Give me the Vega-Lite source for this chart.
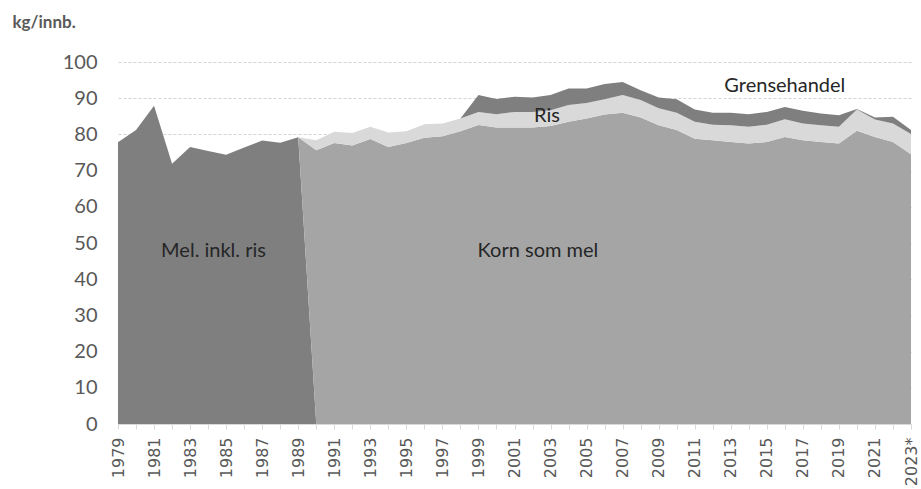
{
  "$schema": "https://vega.github.io/schema/vega-lite/v6.json",
  "width": 793,
  "height": 362,
  "autosize": {"type": "none"},
  "padding": {"left": 118, "top": 62, "right": 10, "bottom": 65},
  "background": "white",
  "config": {
    "view": {"stroke": null},
    "font": "Lato",
    "axisY": {
      "title": "kg/innb.",
      "titleAngle": 0,
      "titleAlign": "left",
      "titleBaseline": "top",
      "titleX": -106,
      "titleY": -48,
      "titleFont": "Lato",
      "titleFontSize": 17,
      "titleFontWeight": "bold",
      "titleColor": "#595959",
      "labelFont": "Lato",
      "labelFontSize": 20,
      "labelColor": "#595959",
      "labelPadding": 21,
      "labelOverlap": false,
      "ticks": false,
      "domain": false,
      "grid": true,
      "gridColor": "#d4d4d4",
      "gridDash": [3, 2],
      "gridWidth": 1
    }
  },
  "datasets": {
    "series": [
      {"year": 1979, "serie": "Mel. inkl. ris", "value": 77.8},
      {"year": 1980, "serie": "Mel. inkl. ris", "value": 81.2},
      {"year": 1981, "serie": "Mel. inkl. ris", "value": 87.9},
      {"year": 1982, "serie": "Mel. inkl. ris", "value": 71.9},
      {"year": 1983, "serie": "Mel. inkl. ris", "value": 76.5},
      {"year": 1984, "serie": "Mel. inkl. ris", "value": 75.4},
      {"year": 1985, "serie": "Mel. inkl. ris", "value": 74.4},
      {"year": 1986, "serie": "Mel. inkl. ris", "value": 76.4},
      {"year": 1987, "serie": "Mel. inkl. ris", "value": 78.3},
      {"year": 1988, "serie": "Mel. inkl. ris", "value": 77.7},
      {"year": 1989, "serie": "Mel. inkl. ris", "value": 79.2},
      {"year": 1990, "serie": "Mel. inkl. ris", "value": 0},
      {"year": 1989, "serie": "Korn som mel", "value": 0},
      {"year": 1990, "serie": "Korn som mel", "value": 75.6},
      {"year": 1991, "serie": "Korn som mel", "value": 77.6},
      {"year": 1992, "serie": "Korn som mel", "value": 76.9},
      {"year": 1993, "serie": "Korn som mel", "value": 78.7},
      {"year": 1994, "serie": "Korn som mel", "value": 76.5},
      {"year": 1995, "serie": "Korn som mel", "value": 77.6},
      {"year": 1996, "serie": "Korn som mel", "value": 79.1},
      {"year": 1997, "serie": "Korn som mel", "value": 79.5},
      {"year": 1998, "serie": "Korn som mel", "value": 80.9},
      {"year": 1999, "serie": "Korn som mel", "value": 82.6},
      {"year": 2000, "serie": "Korn som mel", "value": 81.9},
      {"year": 2001, "serie": "Korn som mel", "value": 81.9},
      {"year": 2002, "serie": "Korn som mel", "value": 81.9},
      {"year": 2003, "serie": "Korn som mel", "value": 82.3},
      {"year": 2004, "serie": "Korn som mel", "value": 83.5},
      {"year": 2005, "serie": "Korn som mel", "value": 84.4},
      {"year": 2006, "serie": "Korn som mel", "value": 85.5},
      {"year": 2007, "serie": "Korn som mel", "value": 86.0},
      {"year": 2008, "serie": "Korn som mel", "value": 84.7},
      {"year": 2009, "serie": "Korn som mel", "value": 82.5},
      {"year": 2010, "serie": "Korn som mel", "value": 81.2},
      {"year": 2011, "serie": "Korn som mel", "value": 78.8},
      {"year": 2012, "serie": "Korn som mel", "value": 78.4},
      {"year": 2013, "serie": "Korn som mel", "value": 77.9},
      {"year": 2014, "serie": "Korn som mel", "value": 77.5},
      {"year": 2015, "serie": "Korn som mel", "value": 77.9},
      {"year": 2016, "serie": "Korn som mel", "value": 79.3},
      {"year": 2017, "serie": "Korn som mel", "value": 78.4},
      {"year": 2018, "serie": "Korn som mel", "value": 77.9},
      {"year": 2019, "serie": "Korn som mel", "value": 77.5},
      {"year": 2020, "serie": "Korn som mel", "value": 81.0},
      {"year": 2021, "serie": "Korn som mel", "value": 79.3},
      {"year": 2022, "serie": "Korn som mel", "value": 77.9},
      {"year": 2023, "serie": "Korn som mel", "value": 74.5},
      {"year": 1989, "serie": "Ris", "value": 0},
      {"year": 1990, "serie": "Ris", "value": 2.8},
      {"year": 1991, "serie": "Ris", "value": 3.1},
      {"year": 1992, "serie": "Ris", "value": 3.5},
      {"year": 1993, "serie": "Ris", "value": 3.4},
      {"year": 1994, "serie": "Ris", "value": 4.0},
      {"year": 1995, "serie": "Ris", "value": 3.3},
      {"year": 1996, "serie": "Ris", "value": 3.7},
      {"year": 1997, "serie": "Ris", "value": 3.5},
      {"year": 1998, "serie": "Ris", "value": 3.5},
      {"year": 1999, "serie": "Ris", "value": 3.6},
      {"year": 2000, "serie": "Ris", "value": 3.7},
      {"year": 2001, "serie": "Ris", "value": 4.3},
      {"year": 2002, "serie": "Ris", "value": 4.3},
      {"year": 2003, "serie": "Ris", "value": 4.4},
      {"year": 2004, "serie": "Ris", "value": 4.6},
      {"year": 2005, "serie": "Ris", "value": 4.3},
      {"year": 2006, "serie": "Ris", "value": 4.2},
      {"year": 2007, "serie": "Ris", "value": 4.9},
      {"year": 2008, "serie": "Ris", "value": 4.8},
      {"year": 2009, "serie": "Ris", "value": 4.7},
      {"year": 2010, "serie": "Ris", "value": 4.8},
      {"year": 2011, "serie": "Ris", "value": 4.7},
      {"year": 2012, "serie": "Ris", "value": 4.3},
      {"year": 2013, "serie": "Ris", "value": 4.6},
      {"year": 2014, "serie": "Ris", "value": 4.6},
      {"year": 2015, "serie": "Ris", "value": 4.8},
      {"year": 2016, "serie": "Ris", "value": 4.9},
      {"year": 2017, "serie": "Ris", "value": 4.6},
      {"year": 2018, "serie": "Ris", "value": 4.6},
      {"year": 2019, "serie": "Ris", "value": 4.6},
      {"year": 2020, "serie": "Ris", "value": 5.9},
      {"year": 2021, "serie": "Ris", "value": 4.8},
      {"year": 2022, "serie": "Ris", "value": 5.1},
      {"year": 2023, "serie": "Ris", "value": 5.6},
      {"year": 1998, "serie": "Grensehandel", "value": 0},
      {"year": 1999, "serie": "Grensehandel", "value": 4.7},
      {"year": 2000, "serie": "Grensehandel", "value": 4.2},
      {"year": 2001, "serie": "Grensehandel", "value": 4.2},
      {"year": 2002, "serie": "Grensehandel", "value": 4.0},
      {"year": 2003, "serie": "Grensehandel", "value": 4.2},
      {"year": 2004, "serie": "Grensehandel", "value": 4.6},
      {"year": 2005, "serie": "Grensehandel", "value": 4.0},
      {"year": 2006, "serie": "Grensehandel", "value": 4.2},
      {"year": 2007, "serie": "Grensehandel", "value": 3.6},
      {"year": 2008, "serie": "Grensehandel", "value": 2.7},
      {"year": 2009, "serie": "Grensehandel", "value": 3.0},
      {"year": 2010, "serie": "Grensehandel", "value": 3.7},
      {"year": 2011, "serie": "Grensehandel", "value": 3.4},
      {"year": 2012, "serie": "Grensehandel", "value": 3.3},
      {"year": 2013, "serie": "Grensehandel", "value": 3.5},
      {"year": 2014, "serie": "Grensehandel", "value": 3.5},
      {"year": 2015, "serie": "Grensehandel", "value": 3.5},
      {"year": 2016, "serie": "Grensehandel", "value": 3.4},
      {"year": 2017, "serie": "Grensehandel", "value": 3.5},
      {"year": 2018, "serie": "Grensehandel", "value": 3.3},
      {"year": 2019, "serie": "Grensehandel", "value": 3.2},
      {"year": 2020, "serie": "Grensehandel", "value": 0.1},
      {"year": 2021, "serie": "Grensehandel", "value": 0.6},
      {"year": 2022, "serie": "Grensehandel", "value": 1.9},
      {"year": 2023, "serie": "Grensehandel", "value": 1.1}
    ],
    "labels": [
      {"text": "Mel. inkl. ris", "year": 1984.3, "value": 47.8},
      {"text": "Korn som mel", "year": 2002.3, "value": 47.8},
      {"text": "Ris", "year": 2002.8, "value": 85.1},
      {"text": "Grensehandel", "year": 2016.0, "value": 93.4}
    ]
  },
  "encoding": {
    "x": {
      "field": "year",
      "type": "quantitative",
      "scale": {"domain": [1979, 2023], "nice": false, "zero": false},
      "axis": {
        "title": null,
        "values": [1979,1980,1981,1982,1983,1984,1985,1986,1987,1988,1989,1990,1991,1992,1993,1994,1995,1996,1997,1998,1999,2000,2001,2002,2003,2004,2005,2006,2007,2008,2009,2010,2011,2012,2013,2014,2015,2016,2017,2018,2019,2020,2021,2022,2023],
        "labelExpr": "datum.value % 2 == 1 ? (datum.value == 2023 ? '2023*' : toString(datum.value)) : ''",
        "labelAngle": -90,
        "labelFont": "DejaVu Sans",
        "labelFontSize": 16,
        "labelColor": "#595959",
        "labelPadding": 8,
        "labelOverlap": false,
        "labelBound": false,
        "labelFlush": false,
        "grid": false,
        "domainColor": "#d9d9d9",
        "domainWidth": 1,
        "tickColor": "#d9d9d9",
        "tickSize": 5
      }
    }
  },
  "layer": [
    {
      "data": {"name": "series"},
      "transform": [
        {"calculate": "indexof(['Mel. inkl. ris', 'Korn som mel', 'Ris', 'Grensehandel'], datum.serie)", "as": "stackorder"}
      ],
      "mark": {"type": "area", "interpolate": "linear"},
      "encoding": {
        "y": {
          "field": "value",
          "type": "quantitative",
          "stack": "zero",
          "scale": {"domain": [0, 100], "nice": false},
          "axis": {"values": [0,10,20,30,40,50,60,70,80,90,100], "title": "kg/innb."}
        },
        "color": {
          "field": "serie",
          "type": "nominal",
          "scale": {
            "domain": ["Mel. inkl. ris", "Korn som mel", "Ris", "Grensehandel"],
            "range": ["#7f7f7f", "#a5a5a5", "#d9d9d9", "#7f7f7f"]
          },
          "legend": null
        },
        "order": {"field": "stackorder", "type": "quantitative", "sort": "ascending"}
      }
    },
    {
      "data": {"name": "labels"},
      "mark": {"type": "text", "font": "Lato", "fontSize": 20, "color": "#262626", "align": "center", "baseline": "middle"},
      "encoding": {
        "y": {
          "field": "value",
          "type": "quantitative",
          "stack": null,
          "scale": {"domain": [0, 100], "nice": false},
          "axis": {"values": [0,10,20,30,40,50,60,70,80,90,100], "title": "kg/innb."}
        },
        "text": {"field": "text"}
      }
    }
  ]
}
